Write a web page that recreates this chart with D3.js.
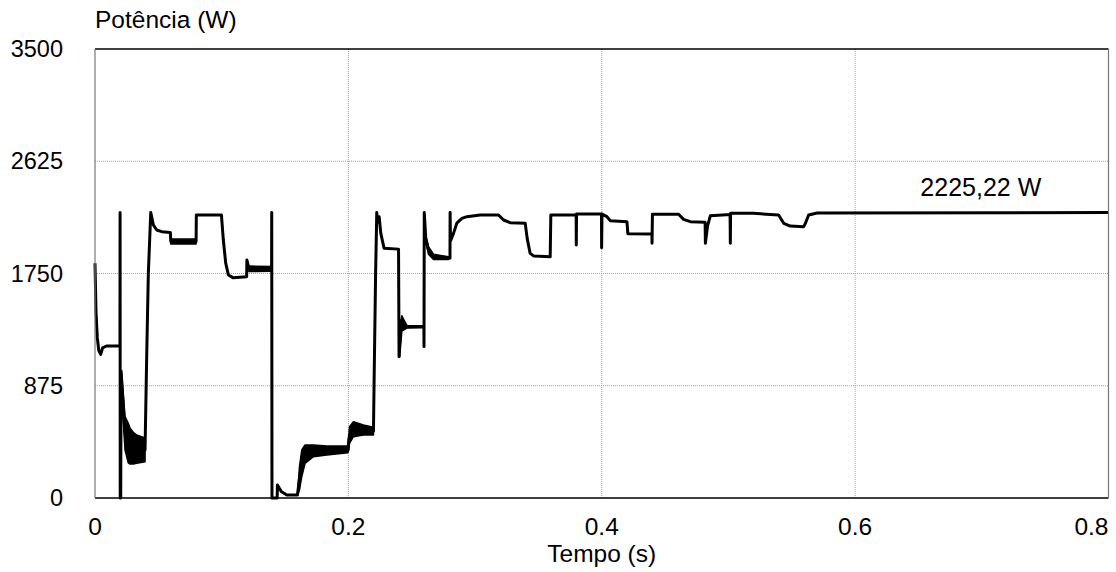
<!DOCTYPE html>
<html>
<head>
<meta charset="utf-8">
<script src="https://cdn.jsdelivr.net/npm/d3@7"></script>
<style>
    body { margin: 0; background: #fff; }
    text { font-family: "Liberation Sans", Arial, sans-serif; fill: #000; }
</style>
</head>
<body>
<svg id="chart"></svg>
<script>
// main trace (time in s, power in W)
const traceT = [0, 0.0008, 0.0018, 0.003, 0.0045, 0.006, 0.009, 0.0197, 0.0198, 0.0199, 0.0203, 0.0206,
    0.0237, 0.0263, 0.0303, 0.0329, 0.0395, 0.0408, 0.0421, 0.044, 0.0461, 0.0487, 0.0527, 0.0595,
    0.0598, 0.0798, 0.08, 0.0998, 0.1013, 0.1032, 0.1053, 0.1092, 0.1197, 0.1199, 0.1215, 0.1394,
    0.1395, 0.1397, 0.1438, 0.144, 0.147, 0.1514, 0.1598, 0.1614, 0.1632, 0.1658, 0.1724, 0.183,
    0.1996, 0.2009, 0.204, 0.2119, 0.2198, 0.2203, 0.2215, 0.2224, 0.2232, 0.2243, 0.2256, 0.2282,
    0.2396, 0.24, 0.2409, 0.2422, 0.2461, 0.2596, 0.2597, 0.2599, 0.2611, 0.2632, 0.2672, 0.279,
    0.2802, 0.2803, 0.2806, 0.283, 0.2856, 0.2896, 0.2936, 0.304, 0.3185, 0.3225, 0.3277, 0.3396,
    0.3412, 0.3435, 0.3462, 0.3593, 0.3598, 0.3798, 0.3799, 0.3801, 0.3998, 0.3999, 0.4002, 0.4041,
    0.4067, 0.4199, 0.4206, 0.4396, 0.4397, 0.44, 0.4607, 0.4646, 0.4699, 0.4816, 0.4818, 0.4835,
    0.4857, 0.5013, 0.5015, 0.5017, 0.5199, 0.5396, 0.5436, 0.5488, 0.5594, 0.5607, 0.5633, 0.57, 0.8];
const traceP = [1830, 1450, 1250, 1150, 1120, 1170, 1185, 1185, 2225, 0, 0, 990,
    504, 428, 388, 380, 375, 1100, 1750, 2225, 2128, 2089, 2076, 2070,
    2000, 2000, 2206, 2206, 2011, 1829, 1738, 1716, 1725, 1855, 1790, 1785,
    2225, 0, 0, 101, 50, 23, 23, 150, 270, 340, 368, 370,
    379, 491, 536, 530, 521, 900, 1750, 2225, 2150, 2193, 2063, 1946,
    1940, 1101, 1300, 1388, 1335, 1335, 1180, 2225, 2024, 1933, 1881, 1868,
    1868, 2225, 2003, 2063, 2143, 2180, 2193, 2206, 2206, 2167, 2146, 2141,
    2020, 1907, 1887, 1880, 2206, 2206, 1972, 2213, 2213, 1950, 2213, 2193,
    2162, 2154, 2060, 2058, 1985, 2212, 2212, 2172, 2154, 2149, 1985, 2120,
    2200, 2210, 1985, 2220, 2219, 2206, 2141, 2120, 2115, 2140, 2206, 2222, 2225.22];

// oscillation envelopes
const bandAT = [0.0206, 0.0211, 0.0237, 0.0263, 0.0276, 0.0303, 0.0329, 0.0395];
const bandAHi = [990, 960, 634, 582, 546, 511, 491, 468];
const bandALo = [990, 800, 374, 273, 265, 265, 270, 283];

const bandBT = [0.1598, 0.1614, 0.1632, 0.1658, 0.1724, 0.183, 0.1996, 0.2003, 0.2009, 0.204, 0.2119, 0.2198];
const bandBHi = [23, 244, 374, 413, 413, 405, 405, 480, 556, 595, 569, 551];
const bandBLo = [23, 62, 166, 270, 322, 335, 353, 370, 426, 478, 491, 491];

const bandCT = [0.0598, 0.0798];
const bandCHi = [2018, 2018];
const bandCLo = [1980, 1980];

const bandDT = [0.1215, 0.1394];
const bandDHi = [1808, 1805];
const bandDLo = [1765, 1768];

const bandET = [0.2405, 0.2422, 0.2461, 0.2596];
const bandEHi = [1300, 1420, 1345, 1340];
const bandELo = [1101, 1300, 1325, 1330];

const bandFT = [0.2611, 0.2632, 0.2672, 0.279];
const bandFHi = [2040, 1960, 1900, 1880];
const bandFLo = [2000, 1900, 1860, 1860];

const xTicks = [0, 0.2, 0.4, 0.6, 0.8];
const xTickLabels = ["0", "0.2", "0.4", "0.6", "0.8"];
const yTicks = [0, 875, 1750, 2625, 3500];
const finalLabel = "2225,22 W";

class PowerChart {
    margin = { top: 49, right: 7.5, bottom: 74, left: 95 }

    constructor(svg, width = 1116, height = 572) {
        this.svg = d3.select(svg);
        this.width = width;
        this.height = height;
    }

    initialize() {
        this.svg.attr("width", this.width).attr("height", this.height);
        this.innerW = this.width - this.margin.left - this.margin.right;
        this.innerH = this.height - this.margin.top - this.margin.bottom;

        this.xScale = d3.scaleLinear().domain([0, 0.8]).range([this.margin.left, this.margin.left + this.innerW]);
        this.yScale = d3.scaleLinear().domain([0, 3500]).range([this.margin.top + this.innerH, this.margin.top]);

        this.grid = this.svg.append("g");
        this.container = this.svg.append("g");
        this.frame = this.svg.append("g");
        this.labels = this.svg.append("g");
    }

    update() {
        const x = this.xScale, y = this.yScale;
        const x0 = x(0), x1 = x(0.8), y0 = y(0), y1 = y(3500);

        // dotted grid
        this.grid.selectAll(".hgrid")
            .data(yTicks.slice(1, -1))
            .enter().append("line")
            .attr("x1", x0).attr("x2", x1)
            .attr("y1", d => y(d)).attr("y2", d => y(d))
            .attr("stroke", "#a0a0a0").attr("stroke-width", 1)
            .attr("stroke-dasharray", "1,1");
        this.grid.selectAll(".vgrid")
            .data(xTicks.slice(1, -1))
            .enter().append("line")
            .attr("x1", d => x(d)).attr("x2", d => x(d))
            .attr("y1", y0).attr("y2", y1)
            .attr("stroke", "#a0a0a0").attr("stroke-width", 1)
            .attr("stroke-dasharray", "1,1");

        const bands = [
            [bandAT, bandAHi, bandALo], [bandBT, bandBHi, bandBLo], [bandCT, bandCHi, bandCLo],
            [bandDT, bandDHi, bandDLo], [bandET, bandEHi, bandELo], [bandFT, bandFHi, bandFLo]
        ].map(([t, hi, lo]) => t.map((d, i) => ({ t: d, hi: hi[i], lo: lo[i] })));

        const area = d3.area()
            .x(d => x(d.t))
            .y0(d => y(d.lo))
            .y1(d => y(d.hi));

        this.container.selectAll(".band")
            .data(bands)
            .enter().append("path")
            .attr("class", "band")
            .attr("fill", "#000")
            .attr("stroke", "#000")
            .attr("stroke-width", 1.5)
            .attr("stroke-linejoin", "round")
            .attr("d", area);

        const trace = traceT.map((d, i) => ({ t: d, p: traceP[i] }));
        const line = d3.line().x(d => x(d.t)).y(d => y(d.p));
        this.container.append("path")
            .datum(trace)
            .attr("fill", "none")
            .attr("stroke", "#000")
            .attr("stroke-width", 3)
            .attr("stroke-linejoin", "round")
            .attr("d", line);

        // frame: top/bottom black, sides gray
        this.frame.append("line").attr("x1", x0).attr("x2", x1).attr("y1", y1).attr("y2", y1)
            .attr("stroke", "#000").attr("stroke-width", 1.5);
        this.frame.append("line").attr("x1", x0).attr("x2", x1).attr("y1", y0).attr("y2", y0)
            .attr("stroke", "#000").attr("stroke-width", 1.5);
        this.frame.append("line").attr("x1", x0).attr("x2", x0).attr("y1", y1).attr("y2", y0)
            .attr("stroke", "#777").attr("stroke-width", 1.2);
        this.frame.append("line").attr("x1", x1).attr("x2", x1).attr("y1", y1).attr("y2", y0)
            .attr("stroke", "#777").attr("stroke-width", 1.2);

        // tick labels
        this.labels.selectAll(".ylab")
            .data(yTicks)
            .enter().append("text")
            .attr("x", 63)
            .attr("y", d => y(d))
            .attr("dy", "0.35em")
            .attr("text-anchor", "end")
            .style("font-size", "23.5px")
            .text(d => d);

        this.labels.selectAll(".xlab")
            .data(xTicks)
            .enter().append("text")
            .attr("x", (d, i) => i === xTicks.length - 1 ? x(d) : x(d))
            .attr("y", y0 + 37)
            .attr("text-anchor", (d, i) => i === xTicks.length - 1 ? "end" : "middle")
            .style("font-size", "24.5px")
            .text((d, i) => xTickLabels[i]);

        this.labels.append("text")
            .attr("x", (x0 + x1) / 2)
            .attr("y", y0 + 64)
            .attr("text-anchor", "middle")
            .style("font-size", "24.5px")
            .text("Tempo (s)");

        this.labels.append("text")
            .attr("x", x0)
            .attr("y", 28)
            .style("font-size", "24.5px")
            .text("Potência (W)");

        this.labels.append("text")
            .attr("x", x(0.6515))
            .attr("y", y(traceP[traceP.length - 1]) - 17)
            .style("font-size", "25px")
            .text(finalLabel);
    }
}

const chart = new PowerChart(document.getElementById("chart"));
chart.initialize();
chart.update();
</script>
</body>
</html>
